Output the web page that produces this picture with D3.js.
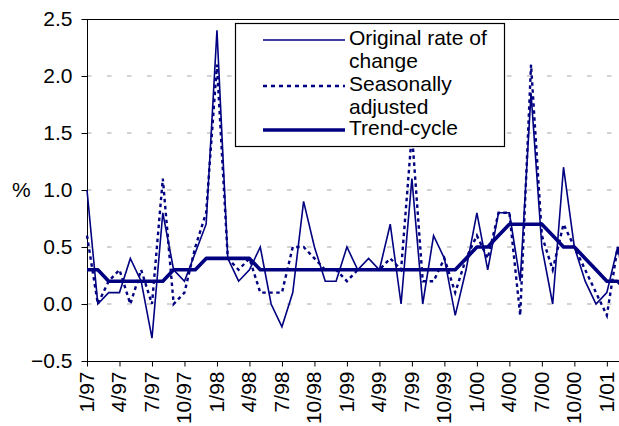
<!DOCTYPE html>
<html>
<head>
<meta charset="utf-8">
<script src="https://cdn.jsdelivr.net/npm/d3@7"></script>
<style>
  body { margin: 0; background: #fff; }
  text { font-family: "Liberation Sans", Arial, sans-serif; fill: #000; }
</style>
</head>
<body>
<svg width="619" height="426"></svg>
<script>
// data, monthly from 1/97
var months = ["1/97","2/97","3/97","4/97","5/97","6/97","7/97","8/97","9/97","10/97","11/97","12/97",
  "1/98","2/98","3/98","4/98","5/98","6/98","7/98","8/98","9/98","10/98","11/98","12/98",
  "1/99","2/99","3/99","4/99","5/99","6/99","7/99","8/99","9/99","10/99","11/99","12/99",
  "1/00","2/00","3/00","4/00","5/00","6/00","7/00","8/00","9/00","10/00","11/00","12/00",
  "1/01","2/01","3/01"];

var original = [1.0, 0.0, 0.1, 0.1, 0.4, 0.2, -0.3, 0.8, 0.3, 0.2, 0.45, 0.7,
  2.4, 0.4, 0.2, 0.3, 0.5, 0.0, -0.2, 0.1, 0.9, 0.5, 0.2, 0.2,
  0.5, 0.3, 0.4, 0.3, 0.7, 0.0, 1.1, 0.0, 0.6, 0.4, -0.1, 0.3,
  0.8, 0.3, 0.8, 0.8, 0.2, 1.85, 0.5, 0.0, 1.2, 0.5, 0.2, 0.0,
  0.1, 0.5, 0.0];

var seasonal = [0.6, 0.0, 0.2, 0.3, 0.0, 0.3, 0.0, 1.1, 0.0, 0.1, 0.5, 0.8,
  2.1, 0.4, 0.3, 0.4, 0.1, 0.1, 0.1, 0.5, 0.5, 0.4, 0.3, 0.3,
  0.2, 0.3, 0.3, 0.3, 0.4, 0.3, 1.5, 0.2, 0.2, 0.4, 0.1, 0.4,
  0.6, 0.4, 0.8, 0.8, -0.1, 2.1, 0.6, 0.3, 0.7, 0.5, 0.3, 0.1,
  -0.1, 0.5, 0.2];

var trend = [0.3, 0.3, 0.2, 0.2, 0.2, 0.2, 0.2, 0.2, 0.3, 0.3, 0.3, 0.4,
  0.4, 0.4, 0.4, 0.4, 0.3, 0.3, 0.3, 0.3, 0.3, 0.3, 0.3, 0.3,
  0.3, 0.3, 0.3, 0.3, 0.3, 0.3, 0.3, 0.3, 0.3, 0.3, 0.3, 0.4,
  0.5, 0.5, 0.6, 0.7, 0.7, 0.7, 0.7, 0.6, 0.5, 0.5, 0.4, 0.3,
  0.2, 0.2, 0.1];

var tickLabels = ["1/97","4/97","7/97","10/97","1/98","4/98","7/98","10/98","1/99",
  "4/99","7/99","10/99","1/00","4/00","7/00","10/00","1/01"];
var yTicks = [-0.5, 0.0, 0.5, 1.0, 1.5, 2.0, 2.5];
var gridVals = [0.0, 0.5, 1.0, 1.5, 2.0];

var navy = "#000080";
var fontSize = "21px";

var svg = d3.select("svg"),
    width = +svg.attr("width"),
    height = +svg.attr("height");

var plotLeft = 87, plotTop = 19, plotBottom = 361;

var x = d3.scalePoint()
    .domain(months)
    .range([plotLeft, plotLeft + 10.83 * (months.length - 1)]);

var y = d3.scaleLinear()
    .domain([-0.5, 2.5])
    .range([plotBottom, plotTop]);

// dashed gridlines
svg.append("g")
  .selectAll("line")
  .data(gridVals)
  .enter().append("line")
  .attr("x1", plotLeft)
  .attr("x2", width)
  .attr("y1", d => y(d))
  .attr("y2", d => y(d))
  .style("stroke", "#a6a6a6")
  .style("stroke-width", 1)
  .style("stroke-dasharray", "4.5,15.5");

// top border of plot area
svg.append("line")
  .attr("x1", plotLeft).attr("x2", width)
  .attr("y1", plotTop + 0.5).attr("y2", plotTop + 0.5)
  .style("stroke", "#000")
  .style("stroke-width", 1);

// y axis
var yAxis = svg.append("g")
  .attr("transform", "translate(" + (plotLeft + 0.5) + ",0)")
  .call(d3.axisLeft(y).tickValues(yTicks).tickFormat(d3.format(".1f")).tickSize(6).tickPadding(9));

// x axis
var xAxis = svg.append("g")
  .attr("transform", "translate(0," + (plotBottom + 0.5) + ")")
  .call(d3.axisBottom(x).tickValues(tickLabels).tickSize(5).tickSizeOuter(0));

yAxis.select(".domain").attr("d", "M0," + plotBottom + "V" + plotTop).style("stroke", "#000");
yAxis.selectAll("text").style("font-size", fontSize).style("font-family", "'Liberation Sans', Arial, sans-serif");

xAxis.select(".domain").attr("d", "M" + plotLeft + ",0H" + width).style("stroke", "#000");
xAxis.selectAll("text")
  .style("font-size", fontSize)
  .style("font-family", "'Liberation Sans', Arial, sans-serif")
  .attr("text-anchor", "end")
  .attr("transform", "rotate(-90)")
  .attr("x", -10)
  .attr("y", 0)
  .attr("dy", "0.3em");

svg.append("text")
  .attr("x", 12)
  .attr("y", y(1.0))
  .attr("dy", "0.35em")
  .style("font-size", fontSize)
  .text("%");

// series lines
var line = d3.line()
  .x((d, i) => x(months[i]))
  .y(d => y(d));

svg.append("path")
  .datum(original)
  .attr("d", line)
  .style("fill", "none")
  .style("stroke", navy)
  .style("stroke-width", 1.6);

svg.append("path")
  .datum(seasonal)
  .attr("d", line)
  .style("fill", "none")
  .style("stroke", navy)
  .style("stroke-width", 2.4)
  .style("stroke-dasharray", "3.5,3.5");

svg.append("path")
  .datum(trend)
  .attr("d", line)
  .style("fill", "none")
  .style("stroke", navy)
  .style("stroke-width", 3.6)
  .style("stroke-linejoin", "round");

// legend
var legend = svg.append("g");

legend.append("rect")
  .attr("x", 235.5).attr("y", 23.5)
  .attr("width", 269).attr("height", 123)
  .style("fill", "#fff")
  .style("stroke", "#000")
  .style("stroke-width", 1.2);

var legendItems = [
  {lines: ["Original rate of", "change"], y: 40, w: 1.6, dash: null},
  {lines: ["Seasonally", "adjusted"], y: 86, w: 2.4, dash: "4,4"},
  {lines: ["Trend-cycle"], y: 130, w: 3.6, dash: null}
];

legendItems.forEach(function(it) {
  legend.append("line")
    .attr("x1", 263).attr("x2", 345)
    .attr("y1", it.y).attr("y2", it.y)
    .style("stroke", navy)
    .style("stroke-width", it.w)
    .style("stroke-dasharray", it.dash);
  it.lines.forEach(function(t, k) {
    legend.append("text")
      .attr("x", 349)
      .attr("y", it.y + 5 + k * 22.5)
      .style("font-size", fontSize)
      .text(t);
  });
});
</script>
</body>
</html>
